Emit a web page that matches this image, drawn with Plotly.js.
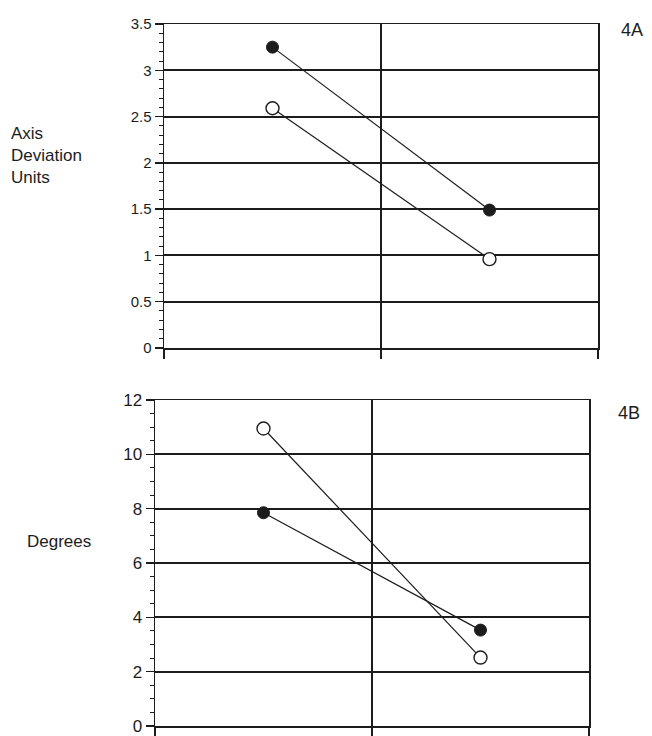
<!DOCTYPE html>
<html>
<head>
<meta charset="utf-8">
<script src="https://cdn.plot.ly/plotly-3.0.1.min.js"></script>
<style>html,body{margin:0;padding:0;background:#fff;}#chart{width:652px;height:736px;}</style>
</head>
<body>
<div id="chart"></div>
<script>
// Categories (two sessions; labels not printed on the chart)
const sessions = ["Session 1", "Session 2"];

// Panel 4A: Axis Deviation Units
const axisFilled = [3.25, 1.49];
const axisOpen = [2.59, 0.96];

// Panel 4B: Degrees
const degFilled = [7.85, 3.53];
const degOpen = [10.95, 2.52];

// Tick values
const ticksA = [0, 0.5, 1, 1.5, 2, 2.5, 3, 3.5];
const ticksB = [0, 2, 4, 6, 8, 10, 12];

const ink = "#1c1c1c";
const fontFam = "Liberation Sans, Arial, Helvetica, sans-serif";

function filledTrace(y, xa, ya) {
  return {x: sessions, y: y, xaxis: xa, yaxis: ya, type: "scatter", mode: "lines+markers",
    line: {color: ink, width: 1.2},
    marker: {symbol: "circle", size: 12, color: ink, line: {color: ink, width: 1}},
    showlegend: false, hoverinfo: "y"};
}
function openTrace(y, xa, ya) {
  return {x: sessions, y: y, xaxis: xa, yaxis: ya, type: "scatter", mode: "lines+markers",
    line: {color: ink, width: 1.2},
    marker: {symbol: "circle", size: 13, color: "#ffffff", line: {color: ink, width: 1.4}},
    showlegend: false, hoverinfo: "y"};
}

const data = [
  filledTrace(axisFilled, "x", "y"),
  openTrace(axisOpen, "x", "y"),
  filledTrace(degFilled, "x2", "y2"),
  openTrace(degOpen, "x2", "y2")
];

function xAxis(domain, anchor) {
  return {domain: domain, anchor: anchor, type: "category", categoryarray: sessions,
    range: [-0.5, 1.5], tickson: "boundaries", showticklabels: false,
    ticks: "outside", ticklen: 9, tickwidth: 1.5, tickcolor: ink,
    showgrid: true, gridcolor: ink, gridwidth: 1.5,
    showline: true, linecolor: ink, linewidth: 1.5, mirror: true,
    zeroline: false, fixedrange: true};
}
function yAxis(domain, anchor, range, tickvals, minorDtick, fsize) {
  return {domain: domain, anchor: anchor, range: range, tickvals: tickvals,
    ticktext: tickvals.map(v => String(v)),
    ticks: "outside", ticklen: 8, tickwidth: 1.5, tickcolor: ink,
    tickfont: {family: fontFam, size: fsize, color: ink},
    minor: {dtick: minorDtick, ticks: "outside", ticklen: 4, tickwidth: 1, tickcolor: ink, showgrid: false},
    showgrid: true, gridcolor: ink, gridwidth: 2,
    showline: true, linecolor: ink, linewidth: 1.5, mirror: true,
    zeroline: false, fixedrange: true};
}

const layout = {
  width: 652, height: 736,
  margin: {l: 0, r: 0, t: 0, b: 0},
  paper_bgcolor: "#ffffff", plot_bgcolor: "#ffffff",
  font: {family: fontFam, color: ink},
  xaxis: xAxis([164/652, 598/652], "y"),
  yaxis: yAxis([1 - 348/736, 1 - 24/736], "x", [0, 3.5], ticksA, 0.1, 15),
  xaxis2: xAxis([155/652, 589/652], "y2"),
  yaxis2: yAxis([1 - 726/736, 1 - 400/736], "x2", [0, 12], ticksB, 0.5, 17),
  annotations: [
    {text: "Axis<br>Deviation<br>Units", xref: "paper", yref: "paper", x: 9/652, y: 1 - 155/736,
     xanchor: "left", yanchor: "middle", align: "left", showarrow: false,
     font: {family: fontFam, size: 17, color: ink}},
    {text: "Degrees", xref: "paper", yref: "paper", x: 25/652, y: 1 - 541/736,
     xanchor: "left", yanchor: "middle", align: "left", showarrow: false,
     font: {family: fontFam, size: 17, color: ink}},
    {text: "4A", xref: "paper", yref: "paper", x: 632/652, y: 1 - 30/736,
     xanchor: "center", yanchor: "middle", showarrow: false,
     font: {family: fontFam, size: 18, color: ink}},
    {text: "4B", xref: "paper", yref: "paper", x: 629/652, y: 1 - 413/736,
     xanchor: "center", yanchor: "middle", showarrow: false,
     font: {family: fontFam, size: 18, color: ink}}
  ]
};

Plotly.newPlot("chart", data, layout, {displayModeBar: false, staticPlot: true});
</script>
</body>
</html>
